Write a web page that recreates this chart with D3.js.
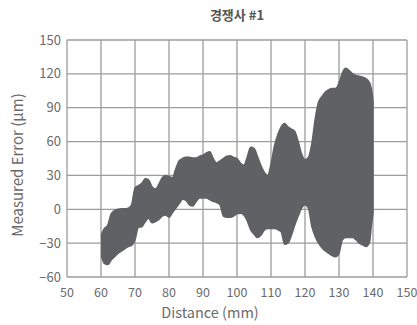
<!DOCTYPE html>
<html>
<head>
<meta charset="utf-8">
<script src="https://cdn.jsdelivr.net/npm/d3@7"></script>
<style>
  body { margin: 0; background: #fff; }
  text { font-family: "Noto Sans CJK KR", "Noto Sans", sans-serif; }
</style>
</head>
<body>
<svg id="chart" width="417" height="325"></svg>
<script>
// distance (mm) sampled along the band
var distance = [60.2, 61, 62, 63, 64, 65, 66, 67, 68, 69, 70, 71, 72, 73, 74, 75, 76, 77, 78, 79,
  80, 81, 82, 83, 84, 85, 86, 87, 88, 89, 90, 91, 92, 93, 94, 95, 96, 97, 98, 99,
  100, 101, 102, 103, 104, 105, 106, 107, 108, 109, 110, 111, 112, 113, 114, 115, 116, 117, 118, 119,
  120, 121, 122, 123, 124, 125, 126, 127, 128, 129, 130, 131, 132, 133, 134, 135, 136, 137, 138, 139,
  139.5, 140];

// upper edge of the error band (um)
var upperError = [-22, -17, -14, -4, -1, 0, 0.5, 0.5, 1, 4, 19, 21, 23, 27, 26, 20, 18, 22, 28, 30,
  29, 28, 36, 43, 45, 46, 46, 45.5, 45.5, 47, 48, 50, 51, 45, 41, 43, 45, 47, 47.5, 46,
  45, 41, 39, 46, 55, 54, 47, 39, 33, 30, 40, 56, 66, 73, 76, 73, 71, 69, 60, 49,
  44, 46, 58, 80, 95, 100, 104, 106, 107, 107, 112, 121, 125, 123, 120, 118.5, 118, 117, 115.5, 112,
  107, 96];

// lower edge of the error band (um)
var lowerError = [-42, -48, -49, -45, -42, -39, -37, -35, -33, -32, -27, -16, -15.5, -11, -8, -12, -11, -9, -6, -5,
  -7, -3, 1, 5, 9, 8, 4, 3, 7, 10, 10, 10, 8.5, 7, 6, 4, -6, -7, -7, -6,
  -4, -3.6, -5, -10, -18, -22, -25, -23, -18.5, -17, -17, -17, -18, -20, -31, -30, -23, -14, -6, 1,
  4, 1, -15, -24, -30, -34, -37, -39, -41, -42, -39, -27, -25, -25, -25, -27, -30, -31.6, -33, -29,
  -15, -3];

var xTicks = [50, 60, 70, 80, 90, 100, 110, 120, 130, 140, 150];
var yTicks = [-60, -30, 0, 30, 60, 90, 120, 150];

var svg = d3.select("#chart");
var margin = { left: 67, right: 10, top: 40, bottom: 48 };
var width = 417, height = 325;

var x = d3.scaleLinear().domain([50, 150]).range([margin.left, width - margin.right]);
var y = d3.scaleLinear().domain([-60, 150]).range([height - margin.bottom, margin.top]);

var gridColor = "#9c9c9c";

// grid lines
svg.append("g")
  .selectAll("line")
  .data(xTicks)
  .enter()
  .append("line")
  .attr("x1", function (d) { return x(d); })
  .attr("x2", function (d) { return x(d); })
  .attr("y1", y(150))
  .attr("y2", y(-60))
  .attr("stroke", gridColor)
  .attr("stroke-width", 1.3);

svg.append("g")
  .selectAll("line")
  .data(yTicks)
  .enter()
  .append("line")
  .attr("x1", x(50))
  .attr("x2", x(150))
  .attr("y1", function (d) { return y(d); })
  .attr("y2", function (d) { return y(d); })
  .attr("stroke", gridColor)
  .attr("stroke-width", 1.3);

// the band
var band = distance.map(function (d, i) {
  return { x: d, lo: lowerError[i], hi: upperError[i] };
});

var area = d3.area()
  .x(function (d) { return x(d.x); })
  .y0(function (d) { return y(d.lo); })
  .y1(function (d) { return y(d.hi); })
  .curve(d3.curveMonotoneX);

svg.append("path")
  .datum(band)
  .attr("d", area)
  .attr("fill", "#606164")
  .attr("stroke", "#606164")
  .attr("stroke-width", 1.5)
  .attr("stroke-linejoin", "round");

// tick labels
svg.append("g")
  .selectAll("text")
  .data(xTicks)
  .enter()
  .append("text")
  .attr("x", function (d) { return x(d); })
  .attr("y", 297)
  .attr("text-anchor", "middle")
  .attr("font-size", 12.5)
  .attr("fill", "#6a6a6a")
  .text(function (d) { return d; });

svg.append("g")
  .selectAll("text")
  .data(yTicks)
  .enter()
  .append("text")
  .attr("x", 61)
  .attr("y", function (d) { return y(d); })
  .attr("dy", "0.35em")
  .attr("text-anchor", "end")
  .attr("font-size", 13)
  .attr("fill", "#6a6a6a")
  .text(function (d) { return d < 0 ? "\u2212" + Math.abs(d) : d; });

// titles
svg.append("text")
  .attr("x", (x(50) + x(150)) / 2)
  .attr("y", 20)
  .attr("text-anchor", "middle")
  .attr("font-size", 13)
  .attr("font-weight", "bold")
  .attr("fill", "#555")
  .text("경쟁사 #1");

svg.append("text")
  .attr("x", 210)
  .attr("y", 318)
  .attr("text-anchor", "middle")
  .attr("font-size", 14.5)
  .attr("fill", "#6a6a6a")
  .text("Distance (mm)");

svg.append("text")
  .attr("transform", "translate(23,165) rotate(-90)")
  .attr("text-anchor", "middle")
  .attr("font-size", 15)
  .attr("fill", "#6a6a6a")
  .text("Measured Error (μm)");
</script>
</body>
</html>
